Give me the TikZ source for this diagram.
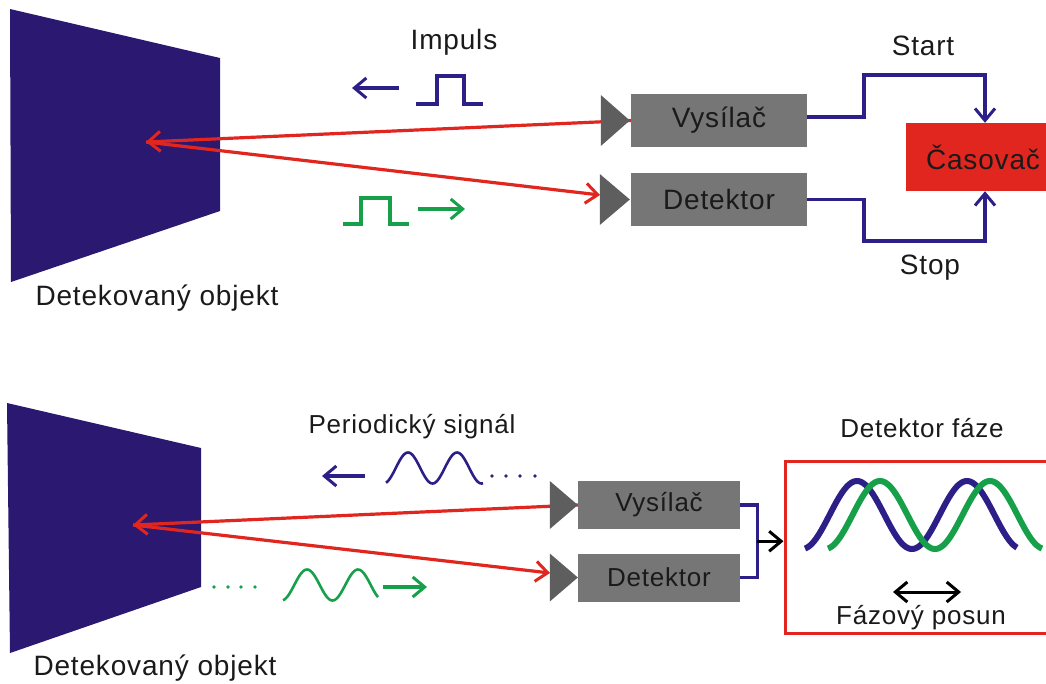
\documentclass[tikz,border=0pt]{standalone}
\usepackage{fontspec}
\setmainfont[LetterSpace=3]{Liberation Sans}
\usetikzlibrary{arrows.meta,calc}

\definecolor{objblue}{HTML}{2B1870}
\definecolor{wireblue}{HTML}{2C2088}
\definecolor{rayred}{HTML}{E0261F}
\definecolor{boxgray}{HTML}{767676}
\definecolor{trigray}{HTML}{5E5E5E}
\definecolor{sigreen}{HTML}{17A04A}
\definecolor{txt}{HTML}{1A1A1A}

\tikzset{
  lbl/.style={text=txt,font=\fontsize{28}{31}\selectfont,inner sep=0pt},
  lblsm/.style={lbl,font=\fontsize{26}{29}\selectfont},
  unit/.style={fill=boxgray,text=txt,font=\fontsize{28}{31}\selectfont,inner sep=0pt,
               minimum width=176pt,minimum height=53pt},
  unitsm/.style={unit,font=\fontsize{26}{29}\selectfont,minimum width=162pt,minimum height=48pt},
  barb/.tip={Straight Barb[length=12pt,width=20pt,line width=3pt]},
  ray/.style={draw=rayred,line width=3.2pt,-barb},
  wire/.style={draw=wireblue,line width=3.3pt},
  wirearrow/.style={wire,-barb},
  pulse/.style={line width=3.3pt,line join=miter},
  dirarrow/.style={line width=3.2pt,-barb},
  wavethin/.style={line width=2.6pt,line cap=butt},
  wavethick/.style={line width=6pt,line cap=butt},
  dotmark/.style={radius=1.8pt},
}

\begin{document}
\begin{tikzpicture}[x=1pt,y=-1pt]
\useasboundingbox (0,0) rectangle (1046,683);
\fill[white] (0,0) rectangle (1046,683);

% ---------------- time-of-flight measurement ----------------
\fill[objblue] (10,9) -- (220,58) -- (220,211) -- (11,282) -- cycle;
\node[lbl] (obj1) at (157,298) {Detekovaný objekt};
\coordinate (hit1) at (146,142);

\node[unit] (v1) at (719,120.5) {Vysílač};
\node[unit] (d1) at (719,199.5) {Detektor};
\node[fill=rayred,text=txt,font=\fontsize{28}{31}\selectfont,inner sep=0pt,
      minimum width=154pt,minimum height=68pt] (cas) at (983,157) {Časovač};

\coordinate (d1in) at (600,195);
\draw[ray] (v1.west) -- (hit1);
\draw[ray] (hit1) -- (d1in);

\fill[trigray] ($(v1.west)+(-30,-25.5)$) -- ($(v1.west)+(-30,25.5)$) -- ([xshift=-1pt]v1.west) -- cycle;
\fill[trigray] ($(d1.west)+(-31,-25.5)$) -- ($(d1.west)+(-31,25.5)$) -- ([xshift=-1pt]d1.west) -- cycle;

\node[lbl] (imp) at (454,42) {Impuls};
\node[lbl] (start) at (923,46) {Start};
\node[lbl] (stop) at (930,268) {Stop};

\draw[wirearrow] ([yshift=3.5pt]v1.east) -| (864,75) -| ([xshift=2pt]cas.north);
\draw[wirearrow] (d1.east) -| (864,241) -| ([xshift=2pt]cas.south);

% outgoing and returning pulse
\coordinate (bpa) at (399,88);
\coordinate (bpb) at (352,88);
\draw[wireblue,dirarrow] (bpa) -- (bpb);
\draw[wireblue,pulse] (416,104) -- (437,104) -- (437,76) -- (464,76) -- (464,104) -- (483,104);
\coordinate (gpa) at (418,209);
\coordinate (gpb) at (465,209);
\draw[sigreen,dirarrow] (gpa) -- (gpb);
\draw[sigreen,pulse] (343,224) -- (361,224) -- (361,198) -- (390,198) -- (390,224) -- (409,224);

% ---------------- phase-shift measurement ----------------
\fill[objblue] (7,403) -- (201,448) -- (201,587) -- (10,653) -- cycle;
\node[lbl] (obj2) at (155,668) {Detekovaný objekt};
\coordinate (hit2) at (133,525);

\node[unitsm] (v2) at (659,505) {Vysílač};
\node[unitsm] (d2) at (659,577.5) {Detektor};
\node[draw=rayred,line width=3pt,minimum width=275pt,minimum height=172pt,inner sep=0pt]
     (fd) at (922.5,547) {};

\coordinate (d2in) at (550,573);
\draw[ray] (v2.west) -- (hit2);
\draw[ray] (hit2) -- (d2in);

\fill[trigray] ($(v2.west)+(-28,-24)$) -- ($(v2.west)+(-28,24)$) -- (v2.west) -- cycle;
\fill[trigray] ($(d2.west)+(-28,-24)$) -- ($(d2.west)+(-28,24)$) -- (d2.west) -- cycle;

\node[lblsm] (per) at (412,427) {Periodický signál};
\node[lblsm] (fdl) at (922,428) {Detektor fáze};
\node[lblsm] (posun) at (921,618) {Fázový posun};

\draw[wire] (v2.east) -- ++(17,0) |- (d2.east);
\coordinate (join) at ($(v2.east)!0.5!(d2.east)+(17,0)$);
\draw[black,dirarrow] (join) -- (fd.west |- join);

% outgoing and returning periodic signal
\coordinate (bsa) at (365,476);
\coordinate (bsb) at (322,476);
\draw[wireblue,dirarrow] (bsa) -- (bsb);
\draw[wireblue,wavethin] plot[domain=386:483,samples=80,smooth]
     (\x,{468-15.5*cos((\x-408)/49*360)});
\foreach \px in {492,506,520,535} \fill[wireblue] (\px,476) circle[dotmark];

\coordinate (gsa) at (383,587);
\coordinate (gsb) at (427,587);
\draw[sigreen,dirarrow] (gsa) -- (gsb);
\draw[sigreen,wavethin] plot[domain=283:378,samples=80,smooth]
     (\x,{585-15.5*cos((\x-307)/51*360)});
\foreach \px in {214,228,241,255} \fill[sigreen] (\px,587) circle[dotmark];

% compared waves inside the phase detector
\draw[wireblue,wavethick] plot[domain=805:1017,samples=120,smooth]
     (\x,{515-34*cos((\x-857)/110*360)});
\draw[sigreen,wavethick] plot[domain=828:1042,samples=120,smooth]
     (\x,{515-34*cos((\x-880)/110*360)});

\coordinate (psa) at (893,592);
\coordinate (psb) at (961,592);
\draw[black,line width=3pt,barb-barb] (psa) -- (psb);
\end{tikzpicture}
\end{document}
